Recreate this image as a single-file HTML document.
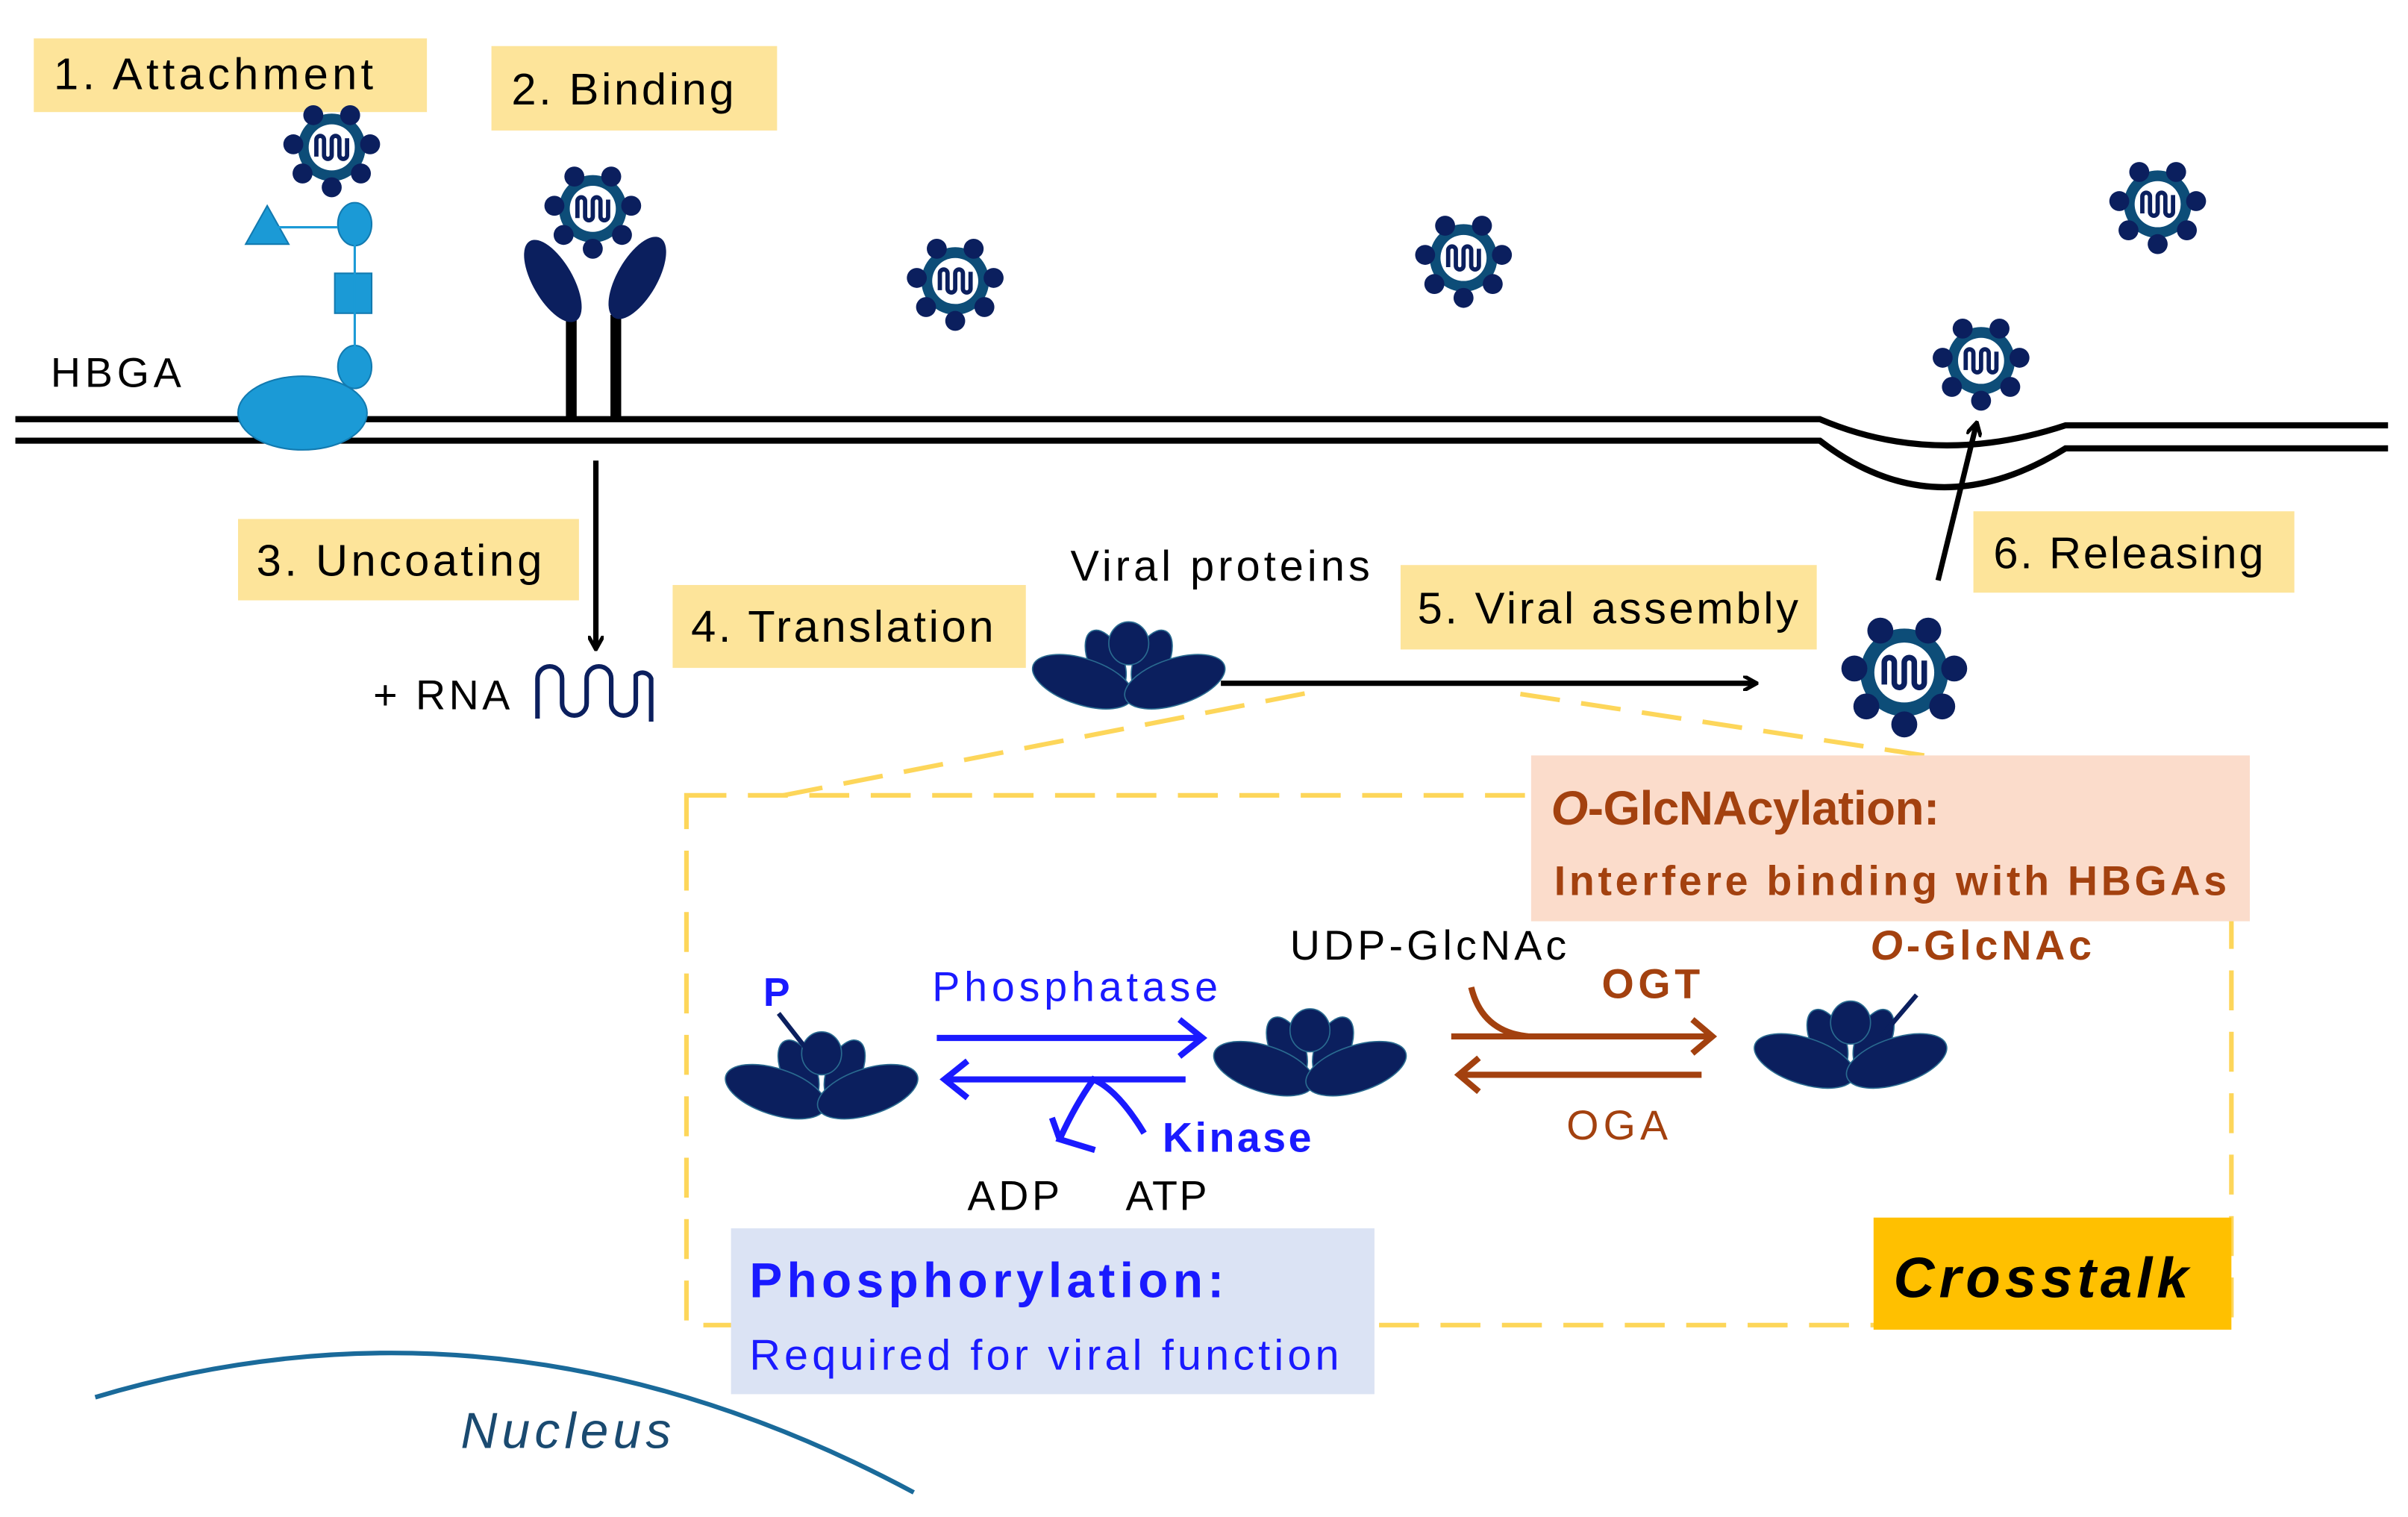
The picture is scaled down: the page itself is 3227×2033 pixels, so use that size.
<!DOCTYPE html>
<html><head><meta charset="utf-8"><style>html,body{margin:0;padding:0;background:#fff}svg{display:block}text{font-family:"Liberation Sans","DejaVu Sans",sans-serif}</style></head><body>
<svg width="3227" height="2033" viewBox="0 0 1568 988" preserveAspectRatio="none" xmlns="http://www.w3.org/2000/svg">
<defs>
<g id="v">
<circle r="22" fill="#0d4d78"/>
<circle r="15" fill="#fff"/>
<path d="M-10,6 V-5 a2.5,2.5 0 0 1 5,0 V5 a2.5,2.5 0 0 0 5,0 V-5 a2.5,2.5 0 0 1 5,0 V5 a2.5,2.5 0 0 0 5,0 V-6" fill="none" stroke="#0b1f5e" stroke-width="2.8"/>
<g fill="#0b1f5e"><circle cx="-12" cy="-21" r="6.5"/><circle cx="12" cy="-21" r="6.5"/><circle cx="-25" cy="-2" r="6.5"/><circle cx="25" cy="-2" r="6.5"/><circle cx="-19" cy="17" r="6.5"/><circle cx="19" cy="17" r="6.5"/><circle cx="0" cy="26" r="6.5"/></g>
</g>
<g id="p" fill="#0b1f5e" stroke="#2a6b90" stroke-width="0.8">
<ellipse cx="-15" cy="-8" rx="11" ry="21" transform="rotate(-25 -15 -8)"/>
<ellipse cx="15" cy="-8" rx="11" ry="21" transform="rotate(25 15 -8)"/>
<ellipse cx="0" cy="-19" rx="13" ry="14"/>
<ellipse cx="-30" cy="6" rx="34" ry="15" transform="rotate(18 -30 6)"/>
<ellipse cx="30" cy="6" rx="34" ry="15" transform="rotate(-18 30 6)"/>
</g>
<marker id="ab" markerWidth="10" markerHeight="10" refX="8" refY="5" orient="auto" markerUnits="userSpaceOnUse"><path d="M0,0 L9,5 L0,10" fill="none" stroke="#000" stroke-width="2.5"/></marker>
</defs>
<g fill="#fde49a"><rect x="22" y="25" width="256" height="48"/><rect x="320" y="30" width="186" height="55"/><rect x="155" y="338" width="222" height="53"/><rect x="438" y="381" width="230" height="54"/><rect x="912" y="368" width="271" height="55"/><rect x="1285" y="333" width="209" height="53"/></g>
<g font-size="29" fill="#000" lengthAdjust="spacingAndGlyphs"><text x="35" y="58" textLength="208">1. Attachment</text><text x="333" y="68" textLength="145">2. Binding</text><text x="167" y="375" textLength="186">3. Uncoating</text><text x="450" y="418" textLength="197">4. Translation</text><text x="923" y="406" textLength="248">5. Viral assembly</text><text x="1298" y="370" textLength="176">6. Releasing</text></g>
<g fill="none" stroke="#000" stroke-width="4"><path d="M10,273 H1185 Q1260,305 1345,277 H1555"/><path d="M10,287 H1185 Q1260,345 1345,292 H1555"/></g>
<text x="33" y="252" font-size="27" textLength="85">HBGA</text>
<g fill="#1b9ad6" stroke="#127ab0" stroke-width="1"><ellipse cx="197" cy="269" rx="42" ry="24"/><ellipse cx="231" cy="239" rx="11" ry="14"/><rect x="218" y="178" width="24" height="26"/><ellipse cx="231" cy="146" rx="11" ry="14"/><path d="M160,159 L174,134 L188,159Z"/></g>
<path d="M231,158 V226 M181,148 H220" stroke="#1b9ad6" stroke-width="1.5"/>
<path d="M372,272 V205 M401,272 V205" stroke="#000" stroke-width="7"/>
<ellipse cx="360" cy="183" rx="13" ry="30" transform="rotate(-30 360 183)" fill="#0b1f5e"/>
<ellipse cx="415" cy="181" rx="13" ry="30" transform="rotate(30 415 181)" fill="#0b1f5e"/>
<use href="#v" x="216" y="96"/><use href="#v" x="386" y="136"/><use href="#v" x="622" y="183"/><use href="#v" x="953" y="168"/><use href="#v" x="1405" y="133"/><use href="#v" x="1290" y="235"/>
<use href="#v" transform="translate(1240,438) scale(1.3)"/>
<line x1="388" y1="300" x2="388" y2="422" stroke="#000" stroke-width="3.5" marker-end="url(#ab)"/>
<line x1="795" y1="445" x2="1143" y2="445" stroke="#000" stroke-width="3.5" marker-end="url(#ab)"/>
<line x1="1262" y1="378" x2="1287" y2="276" stroke="#000" stroke-width="3.5" marker-end="url(#ab)"/>
<text x="243" y="462" font-size="27" textLength="89">+ RNA</text>
<path d="M350,468 V442 a8,8 0 0 1 16,0 V458 a8,8 0 0 0 16,0 V442 a8,8 0 0 1 16,0 V458 a8,8 0 0 0 16,0 V440 a6,6 0 0 1 10,2 V470" fill="none" stroke="#0b1f5e" stroke-width="3"/>
<text x="697" y="378" font-size="28" textLength="195">Viral proteins</text>
<use href="#p" x="735" y="438"/>
<g fill="none" stroke="#fdd65a" stroke-width="3" stroke-dasharray="26,14"><rect x="447" y="518" width="1006" height="345"/><path d="M510,518 L858,450 M990,452 L1450,522"/></g>
<rect x="997" y="492" width="468" height="108" fill="#fbdccb"/>
<text x="1010" y="537" font-size="31" font-weight="bold" fill="#a3410f" textLength="253"><tspan font-style="italic">O</tspan>-GlcNAcylation:</text>
<text x="1012" y="583" font-size="27" font-weight="bold" fill="#a3410f" textLength="438">Interfere binding with HBGAs</text>
<use href="#p" x="535" y="705"/><line x1="507" y1="660" x2="525" y2="683" stroke="#0b1f5e" stroke-width="3"/>
<text x="497" y="655" font-size="26" font-weight="bold" fill="#1a1aff">P</text>
<use href="#p" x="853" y="690"/>
<use href="#p" x="1205" y="685"/><line x1="1225" y1="675" x2="1248" y2="648" stroke="#0b1f5e" stroke-width="3"/>
<text x="607" y="652" font-size="27" fill="#1a1aff" textLength="186">Phosphatase</text>
<g stroke="#1a1aff" stroke-width="4" fill="none"><path d="M610,676 H783 M768,664 L783,676 L768,688"/><path d="M615,703 H772 M630,691 L615,703 L630,715"/><path d="M745,738 Q728,710 712,703 Q700,720 690,742 L713,749 M685,728 L690,742"/></g>
<text x="757" y="750" font-size="27" font-weight="bold" fill="#1a1aff" textLength="97">Kinase</text>
<text x="630" y="788" font-size="27" textLength="60">ADP</text><text x="733" y="788" font-size="27" textLength="53">ATP</text>
<text x="840" y="625" font-size="27" textLength="180">UDP-GlcNAc</text>
<g stroke="#a3410f" stroke-width="4" fill="none"><path d="M945,675 H1115 M1102,664 L1115,675 L1102,686"/><path d="M950,700 H1108 M963,689 L950,700 L963,711"/><path d="M958,643 Q965,672 995,675"/></g>
<text x="1043" y="650" font-size="27" font-weight="bold" fill="#a3410f" textLength="64">OGT</text>
<text x="1020" y="742" font-size="27" fill="#a3410f" textLength="66">OGA</text>
<text x="1218" y="625" font-size="27" font-weight="bold" fill="#a3410f" textLength="144"><tspan font-style="italic">O</tspan>-GlcNAc</text>
<rect x="476" y="800" width="419" height="108" fill="#dbe3f4"/>
<text x="488" y="845" font-size="32" font-weight="bold" fill="#1a1aff" textLength="309">Phosphorylation:</text>
<text x="488" y="892" font-size="28" fill="#1a1aff" textLength="384">Required for viral function</text>
<rect x="1220" y="793" width="233" height="73" fill="#ffc000"/>
<text x="1233" y="845" font-size="37" font-weight="bold" font-style="italic" textLength="192">Crosstalk</text>
<path d="M62,910 Q330,830 595,972" fill="none" stroke="#1a6a9a" stroke-width="3"/>
<text x="300" y="943" font-size="33" font-style="italic" fill="#1a4a70" textLength="137">Nucleus</text>
</svg>
</body></html>
